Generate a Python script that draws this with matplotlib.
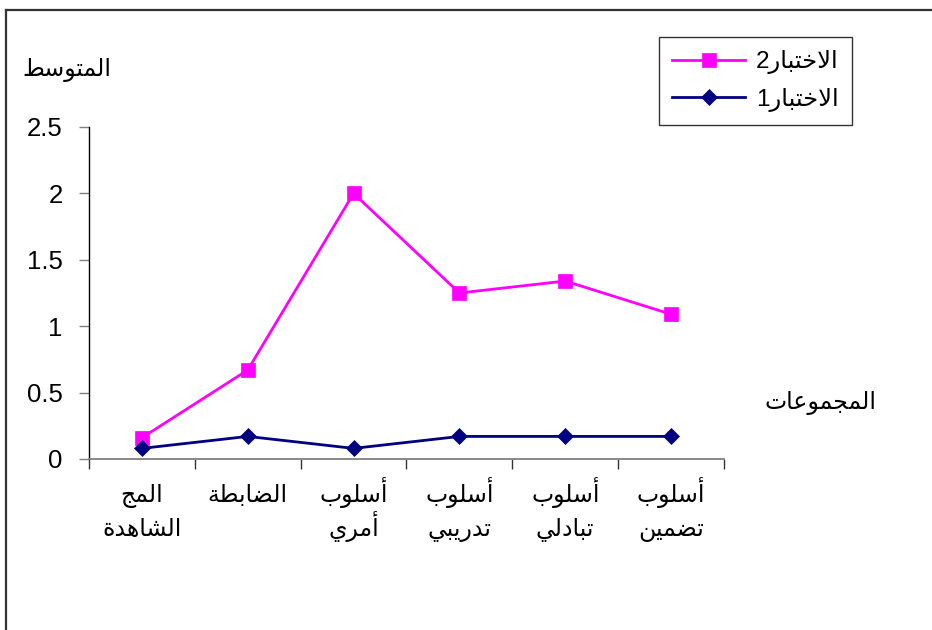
import matplotlib
matplotlib.use("Agg")
import matplotlib.pyplot as plt
from matplotlib.lines import Line2D
from matplotlib.transforms import offset_copy

# ---- data -------------------------------------------------------------
categories = ["المج\nالشاهدة", "الضابطة", "أسلوب\nأمري", "أسلوب\nتدريبي",
              "أسلوب\nتبادلي", "أسلوب\nتضمين"]
test2 = [0.16, 0.67, 2.0, 1.25, 1.34, 1.09]
test1 = [0.08, 0.17, 0.08, 0.17, 0.17, 0.17]
series_names = ["الاختبار2", "الاختبار1"]
y_title = "المتوسط"
x_title = "المجموعات"
y_ticks = [0, 0.5, 1, 1.5, 2, 2.5]
y_tick_labels = ["0", "0.5", "1", "1.5", "2", "2.5"]

# ---- Arabic contextual shaping (presentation forms) --------------------
# letter: (isolated, final, initial, medial); None = does not join forward
FORMS = {
    "\u0627": ("\uFE8D", "\uFE8E", None, None),
    "\u0623": ("\uFE83", "\uFE84", None, None),
    "\u0628": ("\uFE8F", "\uFE90", "\uFE91", "\uFE92"),
    "\u0629": ("\uFE93", "\uFE94", None, None),
    "\u062A": ("\uFE95", "\uFE96", "\uFE97", "\uFE98"),
    "\u062C": ("\uFE9D", "\uFE9E", "\uFE9F", "\uFEA0"),
    "\u062E": ("\uFEA5", "\uFEA6", "\uFEA7", "\uFEA8"),
    "\u062F": ("\uFEA9", "\uFEAA", None, None),
    "\u0631": ("\uFEAD", "\uFEAE", None, None),
    "\u0633": ("\uFEB1", "\uFEB2", "\uFEB3", "\uFEB4"),
    "\u0634": ("\uFEB5", "\uFEB6", "\uFEB7", "\uFEB8"),
    "\u0636": ("\uFEBD", "\uFEBE", "\uFEBF", "\uFEC0"),
    "\u0637": ("\uFEC1", "\uFEC2", "\uFEC3", "\uFEC4"),
    "\u0639": ("\uFEC9", "\uFECA", "\uFECB", "\uFECC"),
    "\u0644": ("\uFEDD", "\uFEDE", "\uFEDF", "\uFEE0"),
    "\u0645": ("\uFEE1", "\uFEE2", "\uFEE3", "\uFEE4"),
    "\u0646": ("\uFEE5", "\uFEE6", "\uFEE7", "\uFEE8"),
    "\u0647": ("\uFEE9", "\uFEEA", "\uFEEB", "\uFEEC"),
    "\u0648": ("\uFEED", "\uFEEE", None, None),
    "\u064A": ("\uFEF1", "\uFEF2", "\uFEF3", "\uFEF4"),
}
LAM_ALEF = {"\u0627": ("\uFEFB", "\uFEFC"), "\u0623": ("\uFEF7", "\uFEF8")}


def _shape_line(line):
    items, i = [], 0
    while i < len(line):
        c = line[i]
        if c == "\u0644" and i + 1 < len(line) and line[i + 1] in LAM_ALEF:
            items.append(("LA", line[i + 1]))
            i += 2
        else:
            items.append(c)
            i += 1

    def is_ar(it):
        return isinstance(it, tuple) or it in FORMS

    def joins_forward(it):
        return (not isinstance(it, tuple)) and it in FORMS and FORMS[it][2] is not None

    out = []
    for k, it in enumerate(items):
        prev = items[k - 1] if k > 0 else None
        nxt = items[k + 1] if k + 1 < len(items) else None
        cp = prev is not None and joins_forward(prev) and is_ar(it)
        cn = joins_forward(it) and nxt is not None and is_ar(nxt)
        if isinstance(it, tuple):
            iso, fin = LAM_ALEF[it[1]]
            out.append(fin if cp else iso)
        elif it in FORMS:
            f = FORMS[it]
            out.append(f[3] if cp and cn else f[1] if cp else f[2] if cn else f[0])
        else:
            out.append(it)
    return "".join(reversed(out))


def ar(text):
    return "\n".join(_shape_line(l) for l in text.split("\n"))


# ---- figure -------------------------------------------------------------
FONT = ["Liberation Sans", "DejaVu Sans"]
plt.rcParams["font.family"] = FONT
AR_SIZE = 17

W, H = 932, 630
fig = plt.figure(figsize=(W / 100, H / 100), dpi=100)
fig.patch.set_facecolor("white")

# outer frame (left and top edges)
frame_kw = dict(color="#333333", linewidth=1.6, solid_capstyle="projecting")
fig.add_artist(Line2D([6 / W, 6 / W], [0, 1 - 10 / H], **frame_kw))
fig.add_artist(Line2D([6 / W, 1], [1 - 10 / H, 1 - 10 / H], **frame_kw))

ax = fig.add_axes([89 / W, 1 - 459 / H, (724 - 89) / W, (459 - 127) / H])
x = list(range(len(categories)))

l2, = ax.plot(x, test2, color="#FF00FF", linewidth=2.0, marker="s",
              markersize=10.5, markerfacecolor="#FF00FF",
              markeredgecolor="#FF00FF", markeredgewidth=0.5, zorder=3)
l1, = ax.plot(x, test1, color="#000080", linewidth=2.0, marker="D",
              markersize=8, markerfacecolor="#000080",
              markeredgecolor="#000080", markeredgewidth=0.5, zorder=4)

ax.set_xlim(-0.5, len(categories) - 0.5)
ax.set_ylim(0, 2.5)

for side in ("top", "right"):
    ax.spines[side].set_visible(False)
ax.spines["left"].set_color("black")
ax.spines["left"].set_linewidth(1.0)
ax.spines["bottom"].set_color("#808080")
ax.spines["bottom"].set_linewidth(1.3)

ax.set_yticks(y_ticks)
ax.set_yticklabels(y_tick_labels, fontsize=18.5)
ax.tick_params(axis="y", direction="out", length=7, width=1.0,
               color="#808080", pad=12)

# category boundaries as ticks, names centred between them
ax.set_xticks([i - 0.5 for i in range(len(categories) + 1)])
ax.set_xticklabels([])
ax.tick_params(axis="x", which="major", direction="out", length=7,
               width=1.0, color="#333333")

xform = ax.get_xaxis_transform()
for xi, name in zip(x, categories):
    for row, part in enumerate(name.split("\n")):
        tr = offset_copy(xform, fig=fig, x=0, y=-(43 + 34 * row) * 0.72,
                         units="points")
        ax.text(xi, 0, ar(part), transform=tr, fontsize=AR_SIZE,
                ha="center", va="baseline", clip_on=False)

fig.text(67 / W, 1 - 70 / H, ar(y_title), fontsize=AR_SIZE, ha="center",
         va="center")
fig.text(820 / W, 1 - 403 / H, ar(x_title), fontsize=AR_SIZE, ha="center",
         va="center")

leg = fig.legend([l2, l1], [ar(n) for n in series_names],
                 loc="upper left",
                 bbox_to_anchor=(659 / W, 1 - 37 / H),
                 fontsize=17.5, frameon=True, fancybox=False,
                 edgecolor="black", handlelength=3.0, handletextpad=0.45,
                 borderpad=0.55, labelspacing=0.55, borderaxespad=0)
leg.get_frame().set_linewidth(1.0)

fig.savefig("out.png", dpi=100, facecolor="white")
